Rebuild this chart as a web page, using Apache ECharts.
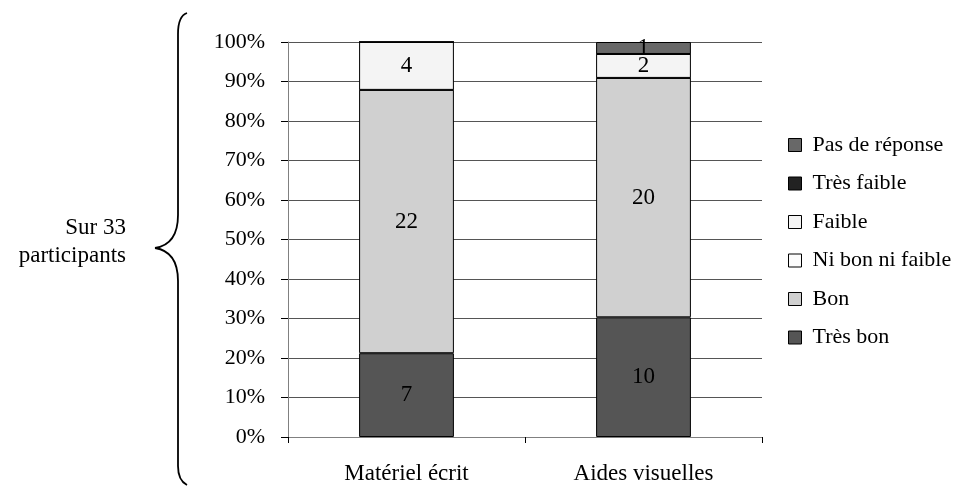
<!DOCTYPE html>
<html><head><meta charset="utf-8">
<script src="https://cdn.jsdelivr.net/npm/echarts@6/dist/echarts.min.js"></script>
<style>html,body{margin:0;padding:0;background:#fff}#c{width:964px;height:486px}</style>
</head><body><div id="c"></div>
<script>
const categories = ['Matériel écrit', 'Aides visuelles'];
const total = 33;
const tresBon = [7, 10];
const bon = [22, 20];
const niBon = [0, 0];
const faible = [4, 2];
const tresFaible = [0, 0];
const pasDeReponse = [0, 1];
const yTicks = [0, 10, 20, 30, 40, 50, 60, 70, 80, 90, 100];

const seriesDefs = [
  {name: 'Très bon', data: tresBon, color: '#555555'},
  {name: 'Bon', data: bon, color: '#D0D0D0'},
  {name: 'Ni bon ni faible', data: niBon, color: '#FCFCFC'},
  {name: 'Faible', data: faible, color: '#F4F4F4'},
  {name: 'Très faible', data: tresFaible, color: '#222222'},
  {name: 'Pas de réponse', data: pasDeReponse, color: '#686868'}
];
const font = 'Liberation Serif';
const braceStyle = {fill: 'none', stroke: '#000', lineWidth: 1.8};
const chart = echarts.init(document.getElementById('c'));
chart.setOption({
  animation: false,
  textStyle: {fontFamily: font},
  grid: {left: 288, right: 202, top: 42, bottom: 49},
  legend: {
    orient: 'vertical', left: 783, top: 129,
    icon: 'rect',
    itemWidth: 13, itemHeight: 13, itemGap: 16.5,
    data: seriesDefs.map(s => s.name).reverse(),
    textStyle: {fontFamily: font, fontSize: 22, color: '#000', padding: [0, 0, 0, 6]},
    itemStyle: {borderColor: '#000', borderWidth: 1}
  },
  xAxis: {
    type: 'category', data: categories,
    axisLine: {lineStyle: {color: '#808080', width: 1}},
    axisTick: {show: true, length: 6, lineStyle: {color: '#000'}},
    axisLabel: {fontFamily: font, fontSize: 23, color: '#000', margin: 25}
  },
  yAxis: {
    type: 'value', min: 0, max: 100, interval: 10,
    axisLine: {show: true, lineStyle: {color: '#808080'}},
    axisTick: {show: true, length: 7, lineStyle: {color: '#000'}},
    axisLabel: {fontFamily: font, fontSize: 22, color: '#000', margin: 23, formatter: v => v + '%'},
    splitLine: {show: true, lineStyle: {color: '#555', width: 1}}
  },
  series: seriesDefs.map(s => ({
    name: s.name, type: 'bar', stack: 'a', barWidth: '40%',
    data: s.data.map(v => v / total * 100),
    itemStyle: {color: s.color, borderColor: '#000', borderWidth: 1},
    label: {
      show: true, position: 'inside', fontFamily: font, fontSize: 23, color: '#000',
      formatter: p => { const v = s.data[p.dataIndex]; return v ? String(v) : ''; }
    }
  })),
  graphic: [
    {type: 'bezierCurve', shape: {x1: 187, y1: 13, cpx1: 181, cpy1: 15, cpx2: 178, cpy2: 22, x2: 178, y2: 34}, style: braceStyle},
    {type: 'line', shape: {x1: 178, y1: 34, x2: 178, y2: 215}, style: braceStyle},
    {type: 'bezierCurve', shape: {x1: 178, y1: 215, cpx1: 178, cpy1: 238, cpx2: 168, cpy2: 246, x2: 155, y2: 248}, style: braceStyle},
    {type: 'bezierCurve', shape: {x1: 155, y1: 248, cpx1: 168, cpy1: 250, cpx2: 178, cpy2: 258, x2: 178, y2: 281}, style: braceStyle},
    {type: 'line', shape: {x1: 178, y1: 281, x2: 178, y2: 466}, style: braceStyle},
    {type: 'bezierCurve', shape: {x1: 178, y1: 466, cpx1: 178, cpy1: 476, cpx2: 181, cpy2: 482, x2: 187, y2: 485}, style: braceStyle},
    {type: 'text', style: {text: 'Sur 33', x: 126, y: 228, align: 'right', verticalAlign: 'middle', font: '23px "Liberation Serif"', fill: '#000'}},
    {type: 'text', style: {text: 'participants', x: 126, y: 256, align: 'right', verticalAlign: 'middle', font: '23px "Liberation Serif"', fill: '#000'}}
  ]
});
</script></body></html>
